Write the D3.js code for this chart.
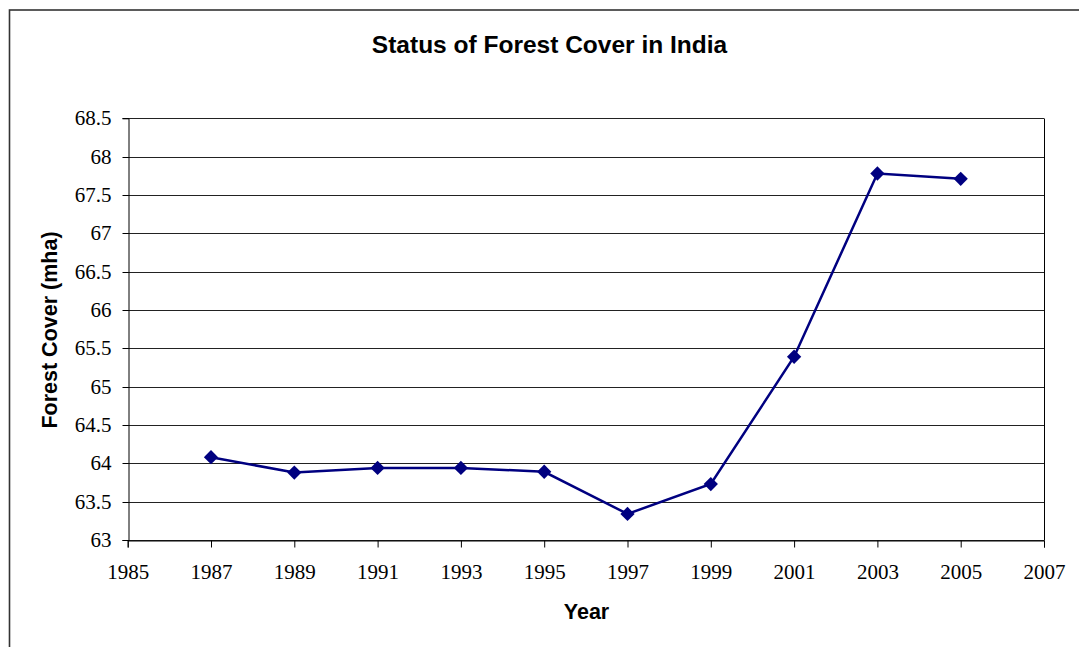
<!DOCTYPE html>
<html><head><meta charset="utf-8">
<script src="https://cdn.jsdelivr.net/npm/d3@7"></script>
<style>body{margin:0;background:#fff}svg{display:block}</style>
</head><body>
<script>
const years = [1987, 1989, 1991, 1993, 1995, 1997, 1999, 2001, 2003, 2005];
const forestCover = [64.08, 63.88, 63.94, 63.94, 63.89, 63.34, 63.73, 65.39, 67.78, 67.71];
const xTicks = [1985, 1987, 1989, 1991, 1993, 1995, 1997, 1999, 2001, 2003, 2005, 2007];
const yTicks = [63, 63.5, 64, 64.5, 65, 65.5, 66, 66.5, 67, 67.5, 68, 68.5];
const titleText = "Status of Forest Cover in India";
const xTitle = "Year";
const yTitle = "Forest Cover (mha)";

const W = 1079, H = 647;
const svg = d3.select("body").append("svg").attr("width", W).attr("height", H);

svg.append("rect").attr("x", 9.5).attr("y", 10).attr("width", 1200).attr("height", 800)
  .attr("fill", "#fff").attr("stroke", "#333").attr("stroke-width", 1.6);

const L = 127.7, R = 1044, T = 118.3, B = 540;
const x = d3.scaleLinear().domain([1985, 2007]).range([L, R]);
const y = d3.scaleLinear().domain([63, 68.5]).range([B, T]);

// gridlines
svg.append("g").selectAll("line").data(yTicks).join("line")
  .attr("x1", L).attr("x2", R)
  .attr("y1", d => Math.round(y(d)) + 0.5).attr("y2", d => Math.round(y(d)) + 0.5)
  .attr("stroke", "#222").attr("stroke-width", 1);
// right frame
svg.append("line").attr("x1", Math.round(R) + 0.5).attr("x2", Math.round(R) + 0.5)
  .attr("y1", Math.round(T) + 0.5).attr("y2", Math.round(B) + 0.5).attr("stroke", "#000");

// y axis
const yAxis = d3.axisLeft(y).tickValues(yTicks).tickSize(6).tickPadding(11).tickFormat(d => d3.format("")(d));
const gy = svg.append("g").attr("transform", `translate(${Math.round(L) + 0.5},0)`).call(yAxis);
gy.select(".domain").attr("stroke", "#000");
gy.selectAll(".tick line").attr("stroke", "#000");
gy.selectAll("text").attr("font-family", "'Liberation Serif','Times New Roman',serif")
  .attr("font-size", 21).attr("fill", "#000");
gy.selectAll(".tick").attr("transform", d => `translate(0,${Math.round(y(d)) + 0.5})`);

// x axis
const xAxis = d3.axisBottom(x).tickValues(xTicks).tickSize(7).tickPadding(16.5).tickFormat(d3.format("d"));
const gx = svg.append("g").attr("transform", `translate(0,${Math.round(B) + 0.5})`).call(xAxis);
gx.select(".domain").attr("stroke", "#000");
gx.selectAll(".tick line").attr("stroke", "#000");
gx.selectAll("text").attr("font-family", "'Liberation Serif','Times New Roman',serif")
  .attr("font-size", 21).attr("fill", "#000");

// line
const data = years.map((yr, i) => ({yr, v: forestCover[i]}));
svg.append("path").datum(data)
  .attr("d", d3.line().x(d => x(d.yr)).y(d => y(d.v)))
  .attr("fill", "none").attr("stroke", "#000080").attr("stroke-width", 2.5);

svg.append("g").selectAll("path").data(data).join("path")
  .attr("d", d3.symbol(d3.symbolDiamond2, 130))
  .attr("transform", d => `translate(${x(d.yr)},${y(d.v)})`)
  .attr("fill", "#000080");

// titles
svg.append("text").attr("x", 549.5).attr("y", 53).attr("text-anchor", "middle")
  .attr("font-family", "'Liberation Sans',Arial,sans-serif").attr("font-weight", "bold")
  .attr("font-size", 24.5).text(titleText);
svg.append("text").attr("x", 586.5).attr("y", 619).attr("text-anchor", "middle")
  .attr("font-family", "'Liberation Sans',Arial,sans-serif").attr("font-weight", "bold")
  .attr("font-size", 21.5).text(xTitle);
svg.append("text").attr("transform", "translate(56.5,330) rotate(-90)").attr("text-anchor", "middle")
  .attr("font-family", "'Liberation Sans',Arial,sans-serif").attr("font-weight", "bold")
  .attr("font-size", 21.5).text(yTitle);
</script>
</body></html>
